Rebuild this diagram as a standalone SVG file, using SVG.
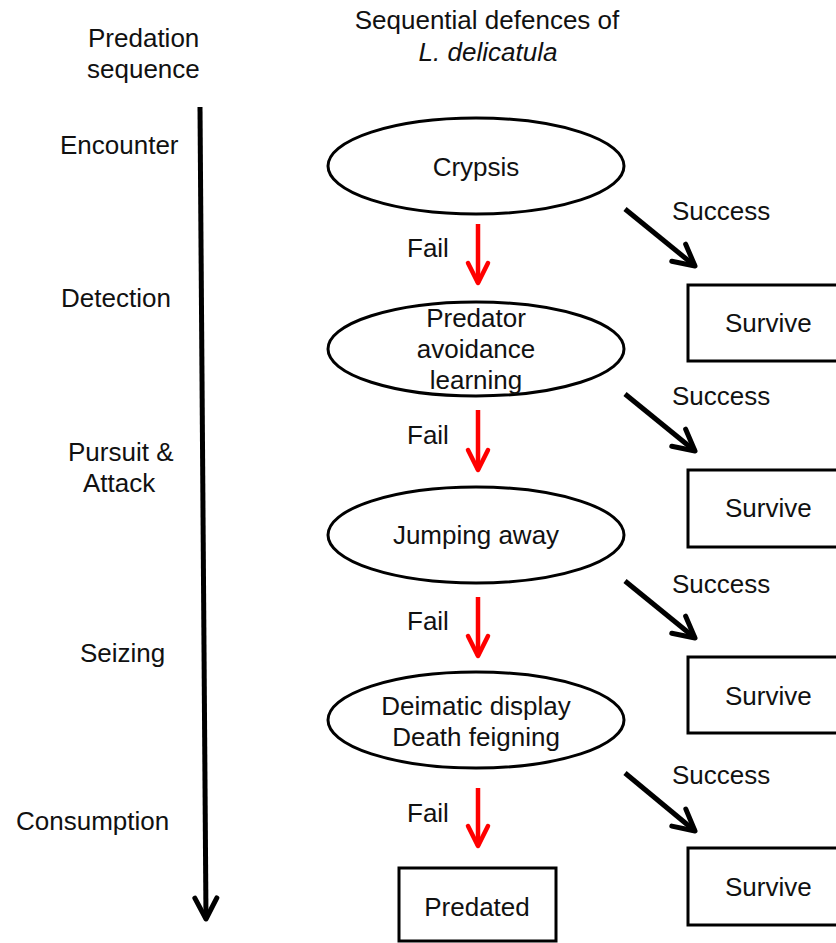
<svg xmlns="http://www.w3.org/2000/svg" width="836" height="943" viewBox="0 0 836 943">
<style>
text{font-family:"Liberation Sans",Arial,sans-serif;font-size:26px;fill:#111}
.node{fill:#fff;stroke:#000;stroke-width:3}
.blk{stroke:#000;stroke-width:5;fill:none}
.red{stroke:#ff0000;stroke-width:4.5;fill:none}
.mid{text-anchor:middle}
</style>
<defs>
<marker id="hb" markerUnits="userSpaceOnUse" orient="auto" overflow="visible" markerWidth="30" markerHeight="30" refX="0" refY="0">
<path d="M-21,-11 L0,0 L-21,11" fill="none" stroke="#000" stroke-width="5" stroke-linejoin="round" stroke-linecap="round"/>
</marker>
<marker id="hr" markerUnits="userSpaceOnUse" orient="auto" overflow="visible" markerWidth="30" markerHeight="30" refX="0" refY="0">
<path d="M-20,-10 L0,0 L-20,10" fill="none" stroke="#ff0000" stroke-width="4.5" stroke-linejoin="round" stroke-linecap="round"/>
</marker>
</defs>
<rect width="836" height="943" fill="#fff"/>

<g id="headers">
<text x="88" y="47">Predation</text>
<text x="87" y="78">sequence</text>
<text x="487" y="29" class="mid">Sequential defences of</text>
<text x="488" y="61" class="mid" font-style="italic">L. delicatula</text>
</g>

<g id="stages">
<text x="60" y="154">Encounter</text>
<text x="61" y="307">Detection</text>
<text x="68" y="461">Pursuit &amp;</text>
<text x="83" y="492">Attack</text>
<text x="80" y="662">Seizing</text>
<text x="16" y="830">Consumption</text>
</g>

<g id="connectors">
<line class="blk" x1="200" y1="107" x2="206" y2="919" marker-end="url(#hb)"/>
<line class="red" x1="478" y1="224" x2="478" y2="283" marker-end="url(#hr)"/>
<line class="red" x1="478" y1="410" x2="478" y2="470" marker-end="url(#hr)"/>
<line class="red" x1="478" y1="597" x2="478" y2="656" marker-end="url(#hr)"/>
<line class="red" x1="478" y1="788" x2="478" y2="846" marker-end="url(#hr)"/>
<line class="blk" x1="625" y1="209" x2="695" y2="266" marker-end="url(#hb)"/>
<line class="blk" x1="625" y1="394" x2="695" y2="451" marker-end="url(#hb)"/>
<line class="blk" x1="625" y1="581" x2="695" y2="638" marker-end="url(#hb)"/>
<line class="blk" x1="625" y1="773" x2="695" y2="831" marker-end="url(#hb)"/>
<text x="407" y="257">Fail</text>
<text x="407" y="444">Fail</text>
<text x="407" y="630">Fail</text>
<text x="407" y="822">Fail</text>
<text x="672" y="220">Success</text>
<text x="672" y="405">Success</text>
<text x="672" y="593">Success</text>
<text x="672" y="784">Success</text>
</g>

<g id="crypsis">
<ellipse class="node" cx="476" cy="166" rx="148" ry="48"/>
<text x="476" y="176" class="mid">Crypsis</text>
</g>
<g id="avoidance">
<ellipse class="node" cx="476" cy="349" rx="148" ry="47"/>
<text x="476" y="327" class="mid">Predator</text>
<text x="476" y="358" class="mid">avoidance</text>
<text x="476" y="389" class="mid">learning</text>
</g>
<g id="jumping">
<ellipse class="node" cx="476" cy="535" rx="148" ry="48"/>
<text x="476" y="544" class="mid">Jumping away</text>
</g>
<g id="deimatic">
<ellipse class="node" cx="476" cy="720" rx="148" ry="48"/>
<text x="476" y="715" class="mid">Deimatic display</text>
<text x="476" y="746" class="mid">Death feigning</text>
</g>
<g id="predated">
<rect class="node" x="399" y="868" width="157" height="73"/>
<text x="477" y="916" class="mid">Predated</text>
</g>
<g id="survive1">
<rect class="node" x="688" y="285" width="170" height="76"/>
<text x="725" y="332">Survive</text>
</g>
<g id="survive2">
<rect class="node" x="688" y="470" width="170" height="77"/>
<text x="725" y="517">Survive</text>
</g>
<g id="survive3">
<rect class="node" x="688" y="657" width="170" height="76"/>
<text x="725" y="705">Survive</text>
</g>
<g id="survive4">
<rect class="node" x="688" y="848" width="170" height="77"/>
<text x="725" y="896">Survive</text>
</g>
</svg>
